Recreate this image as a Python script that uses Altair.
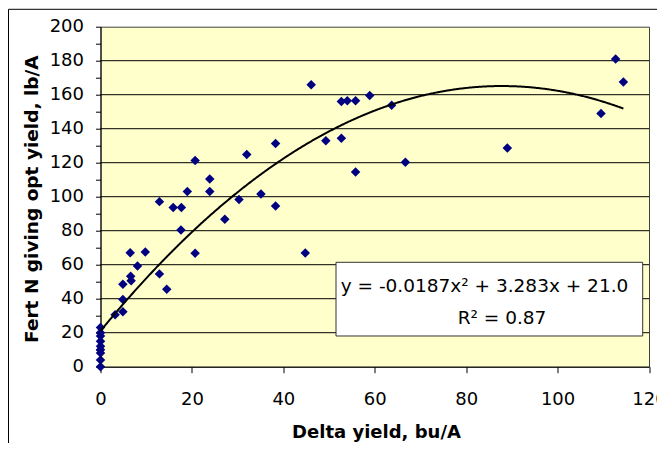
import altair as alt
import pandas as pd

# ---- data ----
delta_yield = [0, 0, 0, 0, 0, 0, 0, 0, 0,
               3.2, 4.9, 4.9, 4.9, 6.6, 6.7, 6.5, 8.1, 9.8,
               12.9, 12.9, 14.5, 15.9, 17.7, 17.6, 19.0, 20.7, 20.7,
               23.9, 23.9, 27.2, 30.3, 32.0, 35.1, 38.3, 38.3, 44.8,
               46.1, 49.3, 52.7, 54.0, 55.8, 52.7, 55.8, 58.9, 63.7,
               66.7, 89.0, 109.5, 112.7, 114.4]
fert_n = [0, 4, 8, 10, 12, 15, 18, 20, 23,
          30.5, 32.3, 39.5, 48.5, 53.2, 50.5, 67, 59.3, 67.5,
          97.1, 54.6, 45.6, 93.7, 93.7, 80.4, 103.1, 121.3, 66.8,
          110.4, 103.0, 86.7, 98.4, 124.8, 101.6, 131.3, 94.5, 66.9,
          165.8, 132.9, 156.0, 156.4, 156.4, 134.4, 114.5, 159.5, 153.8,
          120.2, 128.6, 148.9, 181.0, 167.5]

x_ticks = [0, 20, 40, 60, 80, 100, 120]
y_ticks = list(range(0, 201, 10))
y_grid = [20, 40, 60, 80, 100, 120, 140, 160, 180]

trend_a, trend_b, trend_c = -0.0187, 3.283, 21.0
eq_lines = ["y = -0.0187x² + 3.283x + 21.0", "R² = 0.87"]

x_title = "Delta yield, bu/A"
y_title = "Fert N giving opt yield, lb/A"

FONT = "DejaVu Sans"
W, H = 548.5, 340

df = pd.DataFrame({"x": delta_yield, "y": fert_n})
grid_df = pd.DataFrame({"g": y_grid})

xs = alt.Scale(domain=[0, 120], nice=False, zero=False)
ys = alt.Scale(domain=[0, 200], nice=False)

x_axis = alt.Axis(
    values=x_ticks, title=x_title, grid=False,
    tickSize=6, tickColor="black", domainColor="black",
    labelFont=FONT, labelFontSize=18, labelColor="black",
    labelBaseline="alphabetic", labelPadding=31.6, labelFlush=False,
    labelOverlap=False,
    titleFont=FONT, titleFontSize=18, titleFontWeight="bold", titleColor="black",
    titleBaseline="alphabetic", titleAlign="center", titleX=275.5, titleY=70.6,
)
y_axis = alt.Axis(
    values=y_ticks, title=y_title,
    labelExpr="datum.value % 20 === 0 ? datum.label : ''",
    grid=False, labelOverlap=False,
    tickSize=5, tickColor="black", domainColor="black",
    labelFont=FONT, labelFontSize=18, labelColor="black", labelPadding=12,
    labelFlush=False,
    titleFont=FONT, titleFontSize=18.5, titleFontWeight="bold", titleColor="black",
    titleAngle=270, titleBaseline="middle", titleAlign="center",
    titleX=-68.8, titleY=172,
)

grid = alt.Chart(grid_df).mark_rule(color="black", strokeWidth=1).encode(
    y=alt.Y("g:Q", scale=ys, axis=y_axis, title=y_title),
    x=alt.value(0), x2=alt.value(W),
)

points = alt.Chart(df).mark_point(
    shape="diamond", filled=True, color="#000080", size=90, opacity=1
).encode(
    x=alt.X("x:Q", scale=xs, axis=x_axis),
    y=alt.Y("y:Q", scale=ys, axis=y_axis),
)

trend = alt.Chart(alt.sequence(0, 114.5, 0.2, as_="tx")).transform_calculate(
    ty=f"{trend_a}*datum.tx*datum.tx + {trend_b}*datum.tx + {trend_c}"
).mark_line(color="black", strokeWidth=2).encode(
    x=alt.X("tx:Q", scale=xs, axis=x_axis),
    y=alt.Y("ty:Q", scale=ys, axis=y_axis),
)

one = pd.DataFrame({"k": [0]})
box = alt.Chart(one).mark_rect(fill="white", stroke="#333333", strokeWidth=1).encode(
    x=alt.value(235.5), x2=alt.value(542.2), y=alt.value(235.6), y2=alt.value(309.3)
)
eq1 = alt.Chart(one).mark_text(
    font=FONT, fontSize=18.5, color="black", align="center", baseline="alphabetic"
).encode(x=alt.value(384), y=alt.value(265.6), text=alt.value(eq_lines[0]))
eq2 = alt.Chart(one).mark_text(
    font=FONT, fontSize=18.5, color="black", align="center", baseline="alphabetic"
).encode(x=alt.value(401.5), y=alt.value(297.3), text=alt.value(eq_lines[1]))

border_top = alt.Chart(one).mark_rule(color="black", strokeWidth=1).encode(
    x=alt.value(-92), x2=alt.value(W + 20), y=alt.value(-17.4)
)
border_left = alt.Chart(one).mark_rule(color="black", strokeWidth=1).encode(
    x=alt.value(-92), y=alt.value(-17.4), y2=alt.value(H + 90)
)

chart = alt.layer(grid, points, trend, box, eq1, eq2, border_top, border_left).properties(
    width=W, height=H,
    padding={"left": 92.5, "top": 18.7, "right": 8, "bottom": 76.3},
    autosize=alt.AutoSizeParams(type="none"),
    background="white",
).configure_view(fill="#FFFFCC", stroke="#404040", strokeWidth=1)

chart.save("out.html", embed_options={"renderer": "svg", "actions": False})
